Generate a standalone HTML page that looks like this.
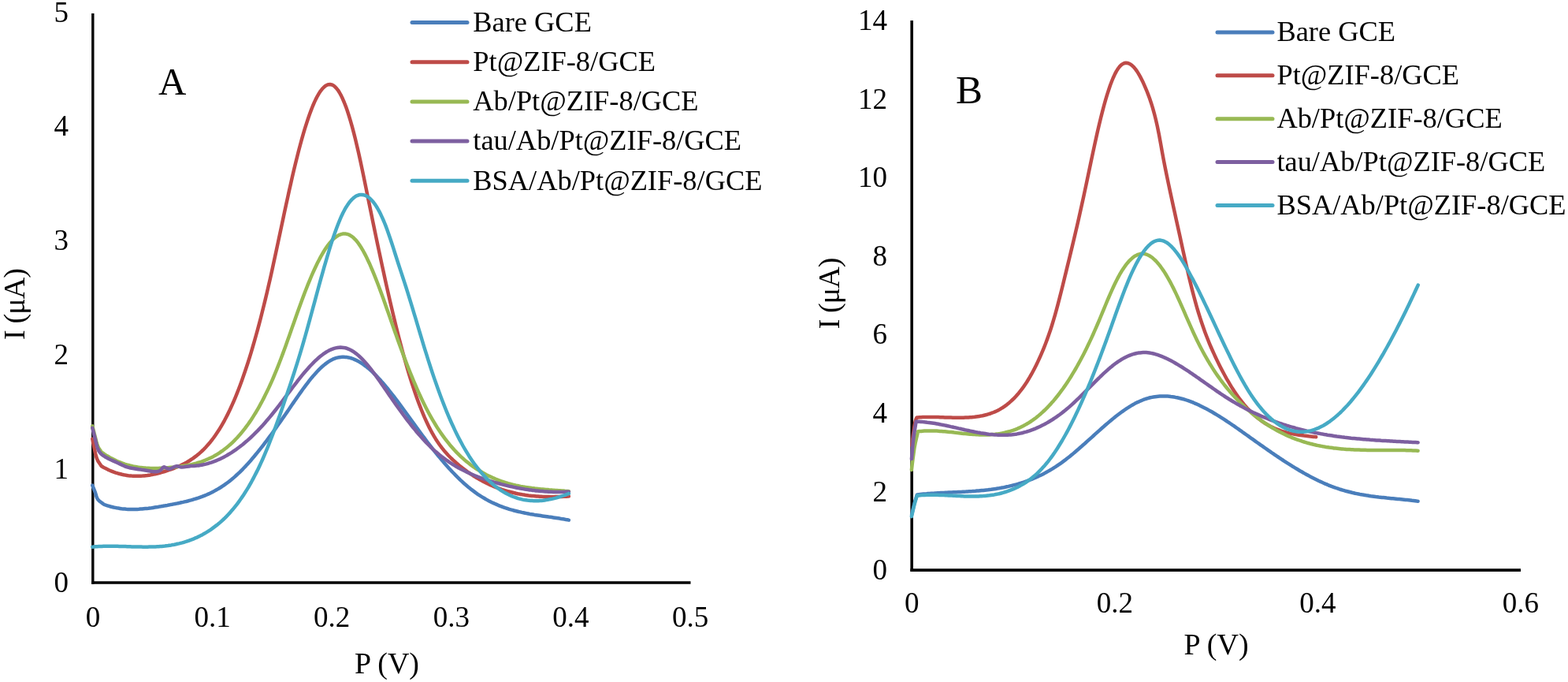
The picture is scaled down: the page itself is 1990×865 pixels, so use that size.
<!DOCTYPE html>
<html><head><meta charset="utf-8"><title>DPV curves</title>
<style>html,body{margin:0;padding:0;background:#fff;overflow:hidden}svg{display:block}</style>
</head><body>
<svg width="1990" height="865" viewBox="0 0 1990 865" font-family="'Liberation Serif','Times New Roman',serif" fill="#000">
<rect width="1990" height="865" fill="#fff"/>
<line x1="117.8" y1="17" x2="117.8" y2="740.7" stroke="#000" stroke-width="3.4"/>
<line x1="116.2" y1="739" x2="876.5" y2="739" stroke="#000" stroke-width="3.4"/>
<line x1="1157.2" y1="26" x2="1157.2" y2="724.8" stroke="#000" stroke-width="3.6"/>
<line x1="1155.4" y1="723.1" x2="1930" y2="723.1" stroke="#000" stroke-width="3.6"/>
<g fill="none" stroke-width="4.5" stroke-linejoin="round" stroke-linecap="round">
<path d="M117.3 615.6 L117.9 617.2 L118.8 619.4 L119.8 621.9 L120.8 624.3 L121.5 626.6 L122.2 629.0 L123.0 631.4 L124.2 633.5 L126.1 635.5 L128.5 637.3 L130.7 638.9 L132.3 640.0 L134.3 640.7 L136.3 641.3 L138.3 641.9 L140.3 642.5 L142.3 643.0 L144.3 643.5 L146.3 643.9 L148.3 644.3 L150.3 644.6 L152.3 644.9 L154.3 645.2 L156.3 645.4 L158.3 645.6 L160.3 645.8 L162.3 645.9 L164.3 645.9 L166.3 646.0 L168.3 646.0 L170.3 646.0 L172.3 645.9 L174.3 645.9 L176.3 645.8 L178.3 645.6 L180.3 645.5 L182.3 645.3 L184.3 645.1 L186.3 644.9 L188.3 644.7 L190.3 644.4 L192.3 644.2 L194.3 643.9 L196.3 643.6 L198.3 643.3 L200.3 643.0 L202.3 642.6 L204.3 642.3 L206.3 641.9 L208.3 641.6 L210.3 641.2 L212.3 640.9 L214.3 640.5 L216.3 640.1 L218.3 639.8 L220.3 639.4 L222.3 639.0 L224.3 638.6 L226.3 638.2 L228.3 637.8 L230.3 637.3 L232.3 636.9 L234.3 636.4 L236.3 636.0 L238.3 635.5 L240.3 634.9 L242.3 634.4 L244.3 633.8 L246.3 633.2 L248.3 632.6 L250.3 632.0 L252.3 631.3 L254.3 630.6 L256.3 629.9 L258.3 629.1 L260.3 628.3 L262.3 627.5 L264.3 626.6 L266.3 625.7 L268.3 624.7 L270.3 623.7 L272.3 622.6 L274.3 621.5 L276.3 620.4 L278.3 619.2 L280.3 618.0 L282.3 616.7 L284.3 615.3 L286.3 613.9 L288.3 612.5 L290.3 611.0 L292.3 609.4 L294.3 607.8 L296.3 606.1 L298.3 604.4 L300.3 602.5 L302.3 600.7 L304.3 598.8 L306.3 596.8 L308.3 594.8 L310.3 592.7 L312.3 590.6 L314.3 588.4 L316.3 586.2 L318.3 583.9 L320.3 581.6 L322.3 579.2 L324.3 576.8 L326.3 574.4 L328.3 571.9 L330.3 569.4 L332.3 566.9 L334.3 564.3 L336.3 561.7 L338.3 559.1 L340.3 556.4 L342.3 553.7 L344.3 551.0 L346.3 548.2 L348.3 545.4 L350.3 542.6 L352.3 539.8 L354.3 537.0 L356.3 534.1 L358.3 531.3 L360.3 528.4 L362.3 525.5 L364.3 522.6 L366.3 519.7 L368.3 516.7 L370.3 513.8 L372.3 510.9 L374.3 508.0 L376.3 505.1 L378.3 502.2 L380.3 499.4 L382.3 496.6 L384.3 493.8 L386.3 491.1 L388.3 488.4 L390.3 485.8 L392.3 483.2 L394.3 480.7 L396.3 478.3 L398.3 475.9 L400.3 473.7 L402.3 471.5 L404.3 469.4 L406.3 467.4 L408.3 465.5 L410.3 463.8 L412.3 462.1 L414.3 460.6 L416.3 459.2 L418.3 457.9 L420.3 456.7 L422.3 455.7 L424.3 454.9 L426.3 454.2 L428.3 453.6 L430.3 453.2 L432.3 452.9 L434.3 452.8 L436.3 452.8 L438.3 452.9 L440.3 453.1 L442.3 453.5 L444.3 453.9 L446.3 454.5 L448.3 455.2 L450.3 456.1 L452.3 457.0 L454.3 458.0 L456.3 459.1 L458.3 460.4 L460.3 461.7 L462.3 463.1 L464.3 464.6 L466.3 466.2 L468.3 467.9 L470.3 469.6 L472.3 471.4 L474.3 473.3 L476.3 475.3 L478.3 477.4 L480.3 479.5 L482.3 481.6 L484.3 483.9 L486.3 486.1 L488.3 488.5 L490.3 490.9 L492.3 493.3 L494.3 495.8 L496.3 498.3 L498.3 500.8 L500.3 503.4 L502.3 506.1 L504.3 508.7 L506.3 511.4 L508.3 514.1 L510.3 516.8 L512.3 519.5 L514.3 522.3 L516.3 525.0 L518.3 527.8 L520.3 530.6 L522.3 533.3 L524.3 536.1 L526.3 538.9 L528.3 541.6 L530.3 544.4 L532.3 547.1 L534.3 549.8 L536.3 552.5 L538.3 555.2 L540.3 557.9 L542.3 560.5 L544.3 563.1 L546.3 565.7 L548.3 568.3 L550.3 570.8 L552.3 573.3 L554.3 575.8 L556.3 578.2 L558.3 580.6 L560.3 583.0 L562.3 585.4 L564.3 587.7 L566.3 590.0 L568.3 592.2 L570.3 594.4 L572.3 596.6 L574.3 598.7 L576.3 600.8 L578.3 602.9 L580.3 604.9 L582.3 606.8 L584.3 608.8 L586.3 610.6 L588.3 612.5 L590.3 614.3 L592.3 616.0 L594.3 617.7 L596.3 619.3 L598.3 620.9 L600.3 622.4 L602.3 623.9 L604.3 625.4 L606.3 626.8 L608.3 628.1 L610.3 629.4 L612.3 630.6 L614.3 631.8 L616.3 633.0 L618.3 634.1 L620.3 635.2 L622.3 636.2 L624.3 637.2 L626.3 638.1 L628.3 639.0 L630.3 639.9 L632.3 640.8 L634.3 641.6 L636.3 642.3 L638.3 643.1 L640.3 643.8 L642.3 644.5 L644.3 645.1 L646.3 645.8 L648.3 646.4 L650.3 646.9 L652.3 647.5 L654.3 648.0 L656.3 648.5 L658.3 649.0 L660.3 649.4 L662.3 649.9 L664.3 650.3 L666.3 650.7 L668.3 651.1 L670.3 651.5 L672.3 651.9 L674.3 652.2 L676.3 652.5 L678.3 652.9 L680.3 653.2 L682.3 653.5 L684.3 653.8 L686.3 654.1 L688.3 654.4 L690.3 654.7 L692.3 655.0 L694.3 655.3 L696.3 655.6 L698.3 655.8 L700.3 656.1 L702.3 656.4 L704.3 656.7 L706.3 657.0 L708.3 657.3 L710.3 657.6 L712.3 658.0 L714.3 658.3 L716.3 658.6 L718.3 659.0 L720.3 659.3 L721.9 659.6" stroke="#4A7EBB"/>
<path d="M117.3 556.6 L117.7 558.6 L118.2 561.5 L118.9 564.8 L119.6 568.1 L120.3 571.5 L121.1 575.2 L122.0 578.8 L123.1 582.0 L124.5 584.9 L126.2 587.5 L127.8 589.8 L128.9 591.3 L130.9 592.5 L132.9 593.6 L134.9 594.6 L136.9 595.6 L138.9 596.5 L140.9 597.3 L142.9 598.1 L144.9 598.9 L146.9 599.6 L148.9 600.2 L150.9 600.8 L152.9 601.3 L154.9 601.8 L156.9 602.2 L158.9 602.6 L160.9 602.9 L162.9 603.2 L164.9 603.4 L166.9 603.6 L168.9 603.7 L170.9 603.8 L172.9 603.8 L174.9 603.8 L176.9 603.8 L178.9 603.7 L180.9 603.6 L182.9 603.4 L184.9 603.2 L186.9 603.0 L188.9 602.7 L190.9 602.4 L192.9 602.0 L194.9 601.6 L196.9 601.2 L198.9 600.8 L200.9 600.3 L202.9 599.8 L204.9 599.2 L206.9 598.6 L208.9 598.0 L210.9 597.4 L212.9 596.7 L214.9 596.0 L216.9 595.3 L218.9 594.6 L220.9 593.8 L222.9 593.0 L224.9 592.2 L226.9 591.4 L228.9 590.5 L230.9 589.5 L232.9 588.5 L234.9 587.5 L236.9 586.4 L238.9 585.2 L240.9 584.0 L242.9 582.7 L244.9 581.4 L246.9 579.9 L248.9 578.4 L250.9 576.8 L252.9 575.2 L254.9 573.4 L256.9 571.5 L258.9 569.6 L260.9 567.5 L262.9 565.3 L264.9 563.0 L266.9 560.7 L268.9 558.1 L270.9 555.5 L272.9 552.7 L274.9 549.8 L276.9 546.8 L278.9 543.7 L280.9 540.3 L282.9 536.9 L284.9 533.3 L286.9 529.5 L288.9 525.6 L290.9 521.6 L292.9 517.3 L294.9 512.9 L296.9 508.3 L298.9 503.6 L300.9 498.6 L302.9 493.5 L304.9 488.2 L306.9 482.8 L308.9 477.1 L310.9 471.3 L312.9 465.3 L314.9 459.2 L316.9 452.8 L318.9 446.3 L320.9 439.5 L322.9 432.6 L324.9 425.5 L326.9 418.3 L328.9 410.8 L330.9 403.2 L332.9 395.3 L334.9 387.3 L336.9 379.1 L338.9 370.7 L340.9 362.1 L342.9 353.4 L344.9 344.4 L346.9 335.3 L348.9 326.1 L350.9 316.8 L352.9 307.4 L354.9 298.0 L356.9 288.6 L358.9 279.2 L360.9 269.8 L362.9 260.6 L364.9 251.4 L366.9 242.3 L368.9 233.4 L370.9 224.6 L372.9 216.1 L374.9 207.7 L376.9 199.7 L378.9 191.8 L380.9 184.2 L382.9 176.9 L384.9 169.9 L386.9 163.2 L388.9 156.8 L390.9 150.7 L392.9 145.0 L394.9 139.6 L396.9 134.5 L398.9 129.9 L400.9 125.6 L402.9 121.8 L404.9 118.4 L406.9 115.3 L408.9 112.8 L410.9 110.7 L412.9 109.0 L414.9 107.9 L416.9 107.2 L418.9 107.1 L420.9 107.4 L422.9 108.3 L424.9 109.8 L426.9 111.8 L428.9 114.3 L430.9 117.5 L432.9 121.1 L434.9 125.3 L436.9 130.0 L438.9 135.1 L440.9 140.8 L442.9 147.0 L444.9 153.6 L446.9 160.6 L448.9 168.1 L450.9 176.0 L452.9 184.4 L454.9 193.1 L456.9 202.1 L458.9 211.4 L460.9 220.9 L462.9 230.6 L464.9 240.4 L466.9 250.2 L468.9 260.0 L470.9 269.8 L472.9 279.6 L474.9 289.3 L476.9 298.9 L478.9 308.5 L480.9 317.9 L482.9 327.3 L484.9 336.6 L486.9 345.8 L488.9 354.9 L490.9 363.9 L492.9 372.7 L494.9 381.5 L496.9 390.1 L498.9 398.5 L500.9 406.8 L502.9 415.0 L504.9 423.0 L506.9 430.8 L508.9 438.4 L510.9 445.9 L512.9 453.1 L514.9 460.2 L516.9 467.1 L518.9 473.8 L520.9 480.3 L522.9 486.5 L524.9 492.6 L526.9 498.5 L528.9 504.2 L530.9 509.7 L532.9 514.9 L534.9 520.0 L536.9 524.9 L538.9 529.6 L540.9 534.0 L542.9 538.3 L544.9 542.4 L546.9 546.2 L548.9 549.9 L550.9 553.4 L552.9 556.7 L554.9 559.8 L556.9 562.7 L558.9 565.5 L560.9 568.2 L562.9 570.7 L564.9 573.1 L566.9 575.3 L568.9 577.5 L570.9 579.5 L572.9 581.5 L574.9 583.4 L576.9 585.2 L578.9 587.0 L580.9 588.7 L582.9 590.4 L584.9 592.0 L586.9 593.6 L588.9 595.1 L590.9 596.6 L592.9 598.1 L594.9 599.5 L596.9 600.8 L598.9 602.2 L600.9 603.5 L602.9 604.7 L604.9 606.0 L606.9 607.1 L608.9 608.3 L610.9 609.4 L612.9 610.5 L614.9 611.5 L616.9 612.5 L618.9 613.5 L620.9 614.4 L622.9 615.4 L624.9 616.2 L626.9 617.1 L628.9 617.9 L630.9 618.7 L632.9 619.4 L634.9 620.1 L636.9 620.8 L638.9 621.5 L640.9 622.1 L642.9 622.7 L644.9 623.3 L646.9 623.8 L648.9 624.3 L650.9 624.8 L652.9 625.3 L654.9 625.8 L656.9 626.2 L658.9 626.6 L660.9 626.9 L662.9 627.3 L664.9 627.6 L666.9 627.9 L668.9 628.2 L670.9 628.5 L672.9 628.7 L674.9 628.9 L676.9 629.1 L678.9 629.3 L680.9 629.5 L682.9 629.6 L684.9 629.7 L686.9 629.8 L688.9 629.9 L690.9 630.0 L692.9 630.1 L694.9 630.1 L696.9 630.1 L698.9 630.2 L700.9 630.2 L702.9 630.2 L704.9 630.1 L706.9 630.1 L708.9 630.0 L710.9 630.0 L712.9 629.9 L714.9 629.8 L716.9 629.8 L718.9 629.7 L720.9 629.5 L721.9 629.5" stroke="#BE4B48"/>
<path d="M117.3 540.4 L117.9 542.9 L118.8 546.4 L119.8 550.4 L120.8 554.0 L121.6 557.2 L122.4 560.4 L123.3 563.4 L124.2 566.0 L125.4 568.4 L126.8 570.5 L128.0 572.3 L128.9 573.5 L130.9 574.9 L132.9 576.3 L134.9 577.6 L136.9 578.8 L138.9 580.0 L140.9 581.1 L142.9 582.1 L144.9 583.1 L146.9 584.1 L148.9 585.0 L150.9 585.8 L152.9 586.6 L154.9 587.4 L156.9 588.1 L158.9 588.8 L160.9 589.4 L162.9 589.9 L164.9 590.5 L166.9 590.9 L168.9 591.4 L170.9 591.8 L172.9 592.1 L174.9 592.5 L176.9 592.8 L178.9 593.0 L180.9 593.2 L182.9 593.4 L184.9 593.6 L186.9 593.7 L188.9 593.8 L190.9 593.9 L192.9 593.9 L194.9 594.0 L196.9 594.0 L198.9 593.9 L200.9 593.9 L202.9 593.8 L204.9 593.7 L206.9 593.6 L208.9 593.5 L210.9 593.4 L212.9 593.2 L214.9 593.0 L216.9 592.8 L218.9 592.7 L220.9 592.5 L222.9 592.2 L224.9 592.0 L226.9 591.8 L228.9 591.5 L230.9 591.2 L232.9 590.9 L234.9 590.6 L236.9 590.3 L238.9 589.9 L240.9 589.5 L242.9 589.1 L244.9 588.6 L246.9 588.1 L248.9 587.6 L250.9 587.0 L252.9 586.4 L254.9 585.8 L256.9 585.1 L258.9 584.3 L260.9 583.5 L262.9 582.7 L264.9 581.8 L266.9 580.9 L268.9 579.9 L270.9 578.9 L272.9 577.8 L274.9 576.6 L276.9 575.4 L278.9 574.1 L280.9 572.7 L282.9 571.3 L284.9 569.8 L286.9 568.3 L288.9 566.6 L290.9 564.9 L292.9 563.2 L294.9 561.3 L296.9 559.4 L298.9 557.3 L300.9 555.2 L302.9 553.0 L304.9 550.8 L306.9 548.4 L308.9 545.9 L310.9 543.4 L312.9 540.7 L314.9 538.0 L316.9 535.1 L318.9 532.2 L320.9 529.1 L322.9 525.9 L324.9 522.7 L326.9 519.3 L328.9 515.8 L330.9 512.2 L332.9 508.5 L334.9 504.6 L336.9 500.6 L338.9 496.6 L340.9 492.4 L342.9 488.0 L344.9 483.6 L346.9 479.0 L348.9 474.2 L350.9 469.4 L352.9 464.4 L354.9 459.3 L356.9 454.0 L358.9 448.6 L360.9 443.2 L362.9 437.7 L364.9 432.1 L366.9 426.4 L368.9 420.7 L370.9 415.1 L372.9 409.4 L374.9 403.7 L376.9 398.0 L378.9 392.4 L380.9 386.9 L382.9 381.4 L384.9 376.1 L386.9 370.8 L388.9 365.7 L390.9 360.7 L392.9 355.8 L394.9 351.0 L396.9 346.4 L398.9 342.0 L400.9 337.7 L402.9 333.6 L404.9 329.7 L406.9 325.9 L408.9 322.4 L410.9 319.0 L412.9 315.8 L414.9 312.9 L416.9 310.2 L418.9 307.7 L420.9 305.4 L422.9 303.4 L424.9 301.6 L426.9 300.1 L428.9 298.8 L430.9 297.8 L432.9 297.1 L434.9 296.6 L436.9 296.5 L438.9 296.6 L440.9 297.0 L442.9 297.7 L444.9 298.8 L446.9 300.1 L448.9 301.8 L450.9 303.8 L452.9 306.1 L454.9 308.7 L456.9 311.6 L458.9 314.8 L460.9 318.2 L462.9 321.9 L464.9 325.8 L466.9 329.9 L468.9 334.2 L470.9 338.8 L472.9 343.5 L474.9 348.3 L476.9 353.3 L478.9 358.5 L480.9 363.7 L482.9 369.1 L484.9 374.6 L486.9 380.1 L488.9 385.7 L490.9 391.4 L492.9 397.1 L494.9 402.8 L496.9 408.5 L498.9 414.2 L500.9 419.9 L502.9 425.6 L504.9 431.2 L506.9 436.7 L508.9 442.2 L510.9 447.5 L512.9 452.9 L514.9 458.1 L516.9 463.3 L518.9 468.3 L520.9 473.3 L522.9 478.2 L524.9 483.0 L526.9 487.7 L528.9 492.3 L530.9 496.8 L532.9 501.2 L534.9 505.5 L536.9 509.7 L538.9 513.8 L540.9 517.7 L542.9 521.5 L544.9 525.2 L546.9 528.8 L548.9 532.3 L550.9 535.7 L552.9 539.0 L554.9 542.2 L556.9 545.2 L558.9 548.2 L560.9 551.1 L562.9 553.9 L564.9 556.6 L566.9 559.2 L568.9 561.7 L570.9 564.2 L572.9 566.5 L574.9 568.8 L576.9 571.0 L578.9 573.1 L580.9 575.2 L582.9 577.2 L584.9 579.1 L586.9 580.9 L588.9 582.7 L590.9 584.4 L592.9 586.0 L594.9 587.6 L596.9 589.2 L598.9 590.7 L600.9 592.1 L602.9 593.5 L604.9 594.8 L606.9 596.1 L608.9 597.3 L610.9 598.5 L612.9 599.7 L614.9 600.8 L616.9 601.9 L618.9 602.9 L620.9 603.9 L622.9 604.8 L624.9 605.8 L626.9 606.6 L628.9 607.5 L630.9 608.3 L632.9 609.1 L634.9 609.8 L636.9 610.5 L638.9 611.2 L640.9 611.8 L642.9 612.5 L644.9 613.1 L646.9 613.6 L648.9 614.2 L650.9 614.7 L652.9 615.1 L654.9 615.6 L656.9 616.0 L658.9 616.5 L660.9 616.9 L662.9 617.2 L664.9 617.6 L666.9 617.9 L668.9 618.2 L670.9 618.5 L672.9 618.8 L674.9 619.1 L676.9 619.3 L678.9 619.6 L680.9 619.8 L682.9 620.0 L684.9 620.2 L686.9 620.4 L688.9 620.6 L690.9 620.8 L692.9 621.0 L694.9 621.1 L696.9 621.3 L698.9 621.4 L700.9 621.6 L702.9 621.7 L704.9 621.9 L706.9 622.0 L708.9 622.2 L710.9 622.3 L712.9 622.5 L714.9 622.6 L716.9 622.8 L718.9 622.9 L720.9 623.1 L721.9 623.2" stroke="#98B954"/>
<path d="M117.3 542.7 L117.9 545.2 L118.8 548.9 L119.8 552.9 L120.8 556.6 L121.6 560.0 L122.4 563.4 L123.3 566.6 L124.2 569.3 L125.2 571.5 L126.2 573.2 L127.4 574.7 L128.9 576.2 L130.8 577.7 L133.1 579.2 L135.5 580.6 L138.1 582.0 L140.8 583.3 L143.8 584.6 L146.8 585.9 L149.7 587.2 L152.6 588.6 L155.4 590.0 L158.3 591.3 L161.2 592.4 L164.1 593.2 L167.0 593.8 L169.9 594.2 L172.8 594.7 L175.7 595.2 L178.6 595.6 L181.4 596.1 L184.3 596.5 L187.3 597.0 L190.4 597.5 L193.3 598.0 L195.9 598.2 L198.0 598.2 L199.8 598.0 L201.3 597.6 L202.8 597.0 L204.2 596.0 L205.4 594.6 L206.5 593.2 L207.5 592.4 L208.4 592.3 L209.3 592.6 L210.1 593.1 L211.0 593.5 L212.0 593.9 L213.0 594.4 L214.2 594.7 L215.6 594.7 L217.4 594.1 L219.4 593.0 L221.6 591.9 L223.6 591.3 L225.3 591.3 L226.9 591.7 L228.6 592.2 L230.6 592.4 L233.4 592.2 L236.8 591.8 L239.9 591.4 L242.1 591.1 L244.1 591.1 L246.1 591.0 L248.1 590.8 L250.1 590.6 L252.1 590.4 L254.1 590.1 L256.1 589.7 L258.1 589.3 L260.1 588.9 L262.1 588.4 L264.1 587.8 L266.1 587.2 L268.1 586.6 L270.1 585.9 L272.1 585.2 L274.1 584.4 L276.1 583.5 L278.1 582.7 L280.1 581.7 L282.1 580.7 L284.1 579.7 L286.1 578.6 L288.1 577.5 L290.1 576.3 L292.1 575.1 L294.1 573.9 L296.1 572.5 L298.1 571.2 L300.1 569.8 L302.1 568.3 L304.1 566.8 L306.1 565.2 L308.1 563.7 L310.1 562.0 L312.1 560.3 L314.1 558.6 L316.1 556.8 L318.1 555.0 L320.1 553.1 L322.1 551.2 L324.1 549.2 L326.1 547.2 L328.1 545.1 L330.1 543.0 L332.1 540.9 L334.1 538.7 L336.1 536.4 L338.1 534.1 L340.1 531.8 L342.1 529.4 L344.1 527.0 L346.1 524.5 L348.1 522.0 L350.1 519.5 L352.1 516.9 L354.1 514.3 L356.1 511.7 L358.1 509.1 L360.1 506.4 L362.1 503.7 L364.1 501.1 L366.1 498.4 L368.1 495.8 L370.1 493.1 L372.1 490.5 L374.1 487.9 L376.1 485.3 L378.1 482.7 L380.1 480.2 L382.1 477.7 L384.1 475.2 L386.1 472.8 L388.1 470.5 L390.1 468.2 L392.1 465.9 L394.1 463.8 L396.1 461.7 L398.1 459.6 L400.1 457.7 L402.1 455.8 L404.1 454.0 L406.1 452.3 L408.1 450.7 L410.1 449.2 L412.1 447.8 L414.1 446.5 L416.1 445.4 L418.1 444.3 L420.1 443.4 L422.1 442.6 L424.1 441.9 L426.1 441.4 L428.1 441.0 L430.1 440.7 L432.1 440.6 L434.1 440.7 L436.1 440.9 L438.1 441.3 L440.1 441.8 L442.1 442.6 L444.1 443.5 L446.1 444.5 L448.1 445.7 L450.1 447.1 L452.1 448.6 L454.1 450.2 L456.1 452.0 L458.1 453.9 L460.1 455.9 L462.1 458.0 L464.1 460.3 L466.1 462.6 L468.1 465.0 L470.1 467.5 L472.1 470.0 L474.1 472.7 L476.1 475.4 L478.1 478.1 L480.1 480.9 L482.1 483.7 L484.1 486.6 L486.1 489.5 L488.1 492.4 L490.1 495.3 L492.1 498.2 L494.1 501.1 L496.1 504.0 L498.1 506.9 L500.1 509.8 L502.1 512.6 L504.1 515.4 L506.1 518.2 L508.1 521.0 L510.1 523.7 L512.1 526.5 L514.1 529.1 L516.1 531.8 L518.1 534.4 L520.1 537.0 L522.1 539.5 L524.1 542.0 L526.1 544.4 L528.1 546.9 L530.1 549.2 L532.1 551.6 L534.1 553.8 L536.1 556.1 L538.1 558.3 L540.1 560.4 L542.1 562.5 L544.1 564.5 L546.1 566.5 L548.1 568.4 L550.1 570.3 L552.1 572.1 L554.1 573.8 L556.1 575.5 L558.1 577.2 L560.1 578.8 L562.1 580.3 L564.1 581.8 L566.1 583.3 L568.1 584.7 L570.1 586.1 L572.1 587.4 L574.1 588.7 L576.1 589.9 L578.1 591.2 L580.1 592.3 L582.1 593.5 L584.1 594.5 L586.1 595.6 L588.1 596.6 L590.1 597.6 L592.1 598.6 L594.1 599.5 L596.1 600.4 L598.1 601.3 L600.1 602.2 L602.1 603.0 L604.1 603.8 L606.1 604.6 L608.1 605.3 L610.1 606.0 L612.1 606.8 L614.1 607.4 L616.1 608.1 L618.1 608.8 L620.1 609.4 L622.1 610.0 L624.1 610.7 L626.1 611.3 L628.1 611.9 L630.1 612.4 L632.1 613.0 L634.1 613.5 L636.1 614.1 L638.1 614.6 L640.1 615.1 L642.1 615.6 L644.1 616.1 L646.1 616.6 L648.1 617.0 L650.1 617.4 L652.1 617.9 L654.1 618.3 L656.1 618.7 L658.1 619.1 L660.1 619.4 L662.1 619.8 L664.1 620.1 L666.1 620.5 L668.1 620.8 L670.1 621.1 L672.1 621.4 L674.1 621.6 L676.1 621.9 L678.1 622.1 L680.1 622.4 L682.1 622.6 L684.1 622.8 L686.1 623.0 L688.1 623.1 L690.1 623.3 L692.1 623.4 L694.1 623.5 L696.1 623.7 L698.1 623.7 L700.1 623.8 L702.1 623.9 L704.1 623.9 L706.1 624.0 L708.1 624.0 L710.1 624.0 L712.1 624.0 L714.1 623.9 L716.1 623.9 L718.1 623.8 L720.1 623.8 L721.9 623.7" stroke="#7D5FA0"/>
<path d="M117.3 693.7 L119.3 693.5 L121.3 693.3 L123.3 693.2 L125.3 693.1 L127.3 693.0 L129.3 692.9 L131.3 692.8 L133.3 692.8 L135.3 692.7 L137.3 692.7 L139.3 692.7 L141.3 692.7 L143.3 692.7 L145.3 692.8 L147.3 692.8 L149.3 692.8 L151.3 692.9 L153.3 692.9 L155.3 693.0 L157.3 693.0 L159.3 693.1 L161.3 693.2 L163.3 693.2 L165.3 693.3 L167.3 693.4 L169.3 693.4 L171.3 693.5 L173.3 693.5 L175.3 693.6 L177.3 693.6 L179.3 693.6 L181.3 693.7 L183.3 693.7 L185.3 693.7 L187.3 693.7 L189.3 693.6 L191.3 693.6 L193.3 693.5 L195.3 693.5 L197.3 693.4 L199.3 693.3 L201.3 693.2 L203.3 693.0 L205.3 692.9 L207.3 692.7 L209.3 692.5 L211.3 692.2 L213.3 692.0 L215.3 691.7 L217.3 691.4 L219.3 691.0 L221.3 690.7 L223.3 690.3 L225.3 689.8 L227.3 689.4 L229.3 688.9 L231.3 688.4 L233.3 687.8 L235.3 687.2 L237.3 686.5 L239.3 685.9 L241.3 685.1 L243.3 684.4 L245.3 683.6 L247.3 682.7 L249.3 681.9 L251.3 680.9 L253.3 680.0 L255.3 678.9 L257.3 677.9 L259.3 676.7 L261.3 675.6 L263.3 674.4 L265.3 673.1 L267.3 671.8 L269.3 670.4 L271.3 668.9 L273.3 667.4 L275.3 665.9 L277.3 664.3 L279.3 662.6 L281.3 660.8 L283.3 659.0 L285.3 657.1 L287.3 655.1 L289.3 653.0 L291.3 650.9 L293.3 648.6 L295.3 646.3 L297.3 643.9 L299.3 641.4 L301.3 638.8 L303.3 636.1 L305.3 633.3 L307.3 630.4 L309.3 627.4 L311.3 624.3 L313.3 621.1 L315.3 617.8 L317.3 614.3 L319.3 610.8 L321.3 607.1 L323.3 603.3 L325.3 599.4 L327.3 595.4 L329.3 591.2 L331.3 586.9 L333.3 582.5 L335.3 577.9 L337.3 573.2 L339.3 568.4 L341.3 563.4 L343.3 558.3 L345.3 553.2 L347.3 547.9 L349.3 542.5 L351.3 537.0 L353.3 531.5 L355.3 525.9 L357.3 520.2 L359.3 514.4 L361.3 508.6 L363.3 502.7 L365.3 496.8 L367.3 490.9 L369.3 484.9 L371.3 478.8 L373.3 472.7 L375.3 466.4 L377.3 460.1 L379.3 453.7 L381.3 447.1 L383.3 440.3 L385.3 433.5 L387.3 426.5 L389.3 419.3 L391.3 412.1 L393.3 404.9 L395.3 397.5 L397.3 390.1 L399.3 382.8 L401.3 375.4 L403.3 368.0 L405.3 360.7 L407.3 353.4 L409.3 346.3 L411.3 339.2 L413.3 332.3 L415.3 325.5 L417.3 318.8 L419.3 312.4 L421.3 306.1 L423.3 300.1 L425.3 294.4 L427.3 288.9 L429.3 283.7 L431.3 278.8 L433.3 274.2 L435.3 270.0 L437.3 266.2 L439.3 262.7 L441.3 259.6 L443.3 256.8 L445.3 254.4 L447.3 252.3 L449.3 250.5 L451.3 249.1 L453.3 248.1 L455.3 247.3 L457.3 247.0 L459.3 246.9 L461.3 247.2 L463.3 247.8 L465.3 248.7 L467.3 250.0 L469.3 251.5 L471.3 253.5 L473.3 255.7 L475.3 258.3 L477.3 261.3 L479.3 264.5 L481.3 268.1 L483.3 272.1 L485.3 276.4 L487.3 281.0 L489.3 285.9 L491.3 291.2 L493.3 296.9 L495.3 302.7 L497.3 308.8 L499.3 314.9 L501.3 321.2 L503.3 327.5 L505.3 333.7 L507.3 339.9 L509.3 345.9 L511.3 352.0 L513.3 358.1 L515.3 364.3 L517.3 370.6 L519.3 377.1 L521.3 383.6 L523.3 390.1 L525.3 396.8 L527.3 403.4 L529.3 410.1 L531.3 416.8 L533.3 423.5 L535.3 430.2 L537.3 436.8 L539.3 443.3 L541.3 449.7 L543.3 456.1 L545.3 462.3 L547.3 468.5 L549.3 474.5 L551.3 480.4 L553.3 486.1 L555.3 491.8 L557.3 497.3 L559.3 502.7 L561.3 508.0 L563.3 513.1 L565.3 518.2 L567.3 523.1 L569.3 527.8 L571.3 532.5 L573.3 537.0 L575.3 541.3 L577.3 545.6 L579.3 549.7 L581.3 553.7 L583.3 557.6 L585.3 561.3 L587.3 565.0 L589.3 568.5 L591.3 571.9 L593.3 575.2 L595.3 578.4 L597.3 581.4 L599.3 584.4 L601.3 587.3 L603.3 590.0 L605.3 592.7 L607.3 595.2 L609.3 597.7 L611.3 600.0 L613.3 602.3 L615.3 604.5 L617.3 606.6 L619.3 608.6 L621.3 610.5 L623.3 612.3 L625.3 614.0 L627.3 615.7 L629.3 617.3 L631.3 618.8 L633.3 620.2 L635.3 621.6 L637.3 622.9 L639.3 624.1 L641.3 625.2 L643.3 626.3 L645.3 627.3 L647.3 628.3 L649.3 629.2 L651.3 630.0 L653.3 630.7 L655.3 631.4 L657.3 632.1 L659.3 632.6 L661.3 633.1 L663.3 633.6 L665.3 634.0 L667.3 634.3 L669.3 634.6 L671.3 634.8 L673.3 635.0 L675.3 635.1 L677.3 635.2 L679.3 635.2 L681.3 635.2 L683.3 635.2 L685.3 635.0 L687.3 634.9 L689.3 634.7 L691.3 634.4 L693.3 634.1 L695.3 633.8 L697.3 633.4 L699.3 633.0 L701.3 632.6 L703.3 632.1 L705.3 631.6 L707.3 631.0 L709.3 630.4 L711.3 629.8 L713.3 629.2 L715.3 628.5 L717.3 627.8 L719.3 627.0 L721.3 626.3 L721.9 626.0" stroke="#46AAC5"/>
<path d="M1157.1 653.0 L1157.7 650.3 L1158.6 646.4 L1159.6 642.2 L1160.5 638.5 L1161.4 635.2 L1162.4 632.1 L1163.3 629.3 L1163.9 627.4 L1165.9 627.2 L1167.9 627.0 L1169.9 626.8 L1171.9 626.6 L1173.9 626.4 L1175.9 626.3 L1177.9 626.1 L1179.9 626.0 L1181.9 625.8 L1183.9 625.7 L1185.9 625.6 L1187.9 625.4 L1189.9 625.3 L1191.9 625.2 L1193.9 625.1 L1195.9 625.0 L1197.9 624.9 L1199.9 624.8 L1201.9 624.7 L1203.9 624.6 L1205.9 624.5 L1207.9 624.4 L1209.9 624.3 L1211.9 624.3 L1213.9 624.2 L1215.9 624.1 L1217.9 624.0 L1219.9 623.9 L1221.9 623.8 L1223.9 623.7 L1225.9 623.6 L1227.9 623.4 L1229.9 623.3 L1231.9 623.2 L1233.9 623.1 L1235.9 622.9 L1237.9 622.8 L1239.9 622.6 L1241.9 622.5 L1243.9 622.3 L1245.9 622.1 L1247.9 621.9 L1249.9 621.7 L1251.9 621.5 L1253.9 621.3 L1255.9 621.0 L1257.9 620.8 L1259.9 620.5 L1261.9 620.2 L1263.9 619.9 L1265.9 619.6 L1267.9 619.3 L1269.9 618.9 L1271.9 618.5 L1273.9 618.2 L1275.9 617.8 L1277.9 617.3 L1279.9 616.9 L1281.9 616.4 L1283.9 616.0 L1285.9 615.4 L1287.9 614.9 L1289.9 614.4 L1291.9 613.8 L1293.9 613.2 L1295.9 612.6 L1297.9 612.0 L1299.9 611.3 L1301.9 610.6 L1303.9 609.9 L1305.9 609.1 L1307.9 608.4 L1309.9 607.6 L1311.9 606.7 L1313.9 605.9 L1315.9 605.0 L1317.9 604.1 L1319.9 603.1 L1321.9 602.2 L1323.9 601.2 L1325.9 600.1 L1327.9 599.0 L1329.9 597.9 L1331.9 596.8 L1333.9 595.6 L1335.9 594.4 L1337.9 593.1 L1339.9 591.9 L1341.9 590.5 L1343.9 589.2 L1345.9 587.8 L1347.9 586.4 L1349.9 584.9 L1351.9 583.4 L1353.9 581.8 L1355.9 580.3 L1357.9 578.7 L1359.9 577.0 L1361.9 575.4 L1363.9 573.7 L1365.9 572.0 L1367.9 570.3 L1369.9 568.5 L1371.9 566.8 L1373.9 565.0 L1375.9 563.3 L1377.9 561.5 L1379.9 559.7 L1381.9 557.9 L1383.9 556.1 L1385.9 554.3 L1387.9 552.5 L1389.9 550.7 L1391.9 548.9 L1393.9 547.1 L1395.9 545.3 L1397.9 543.5 L1399.9 541.8 L1401.9 540.0 L1403.9 538.3 L1405.9 536.6 L1407.9 534.9 L1409.9 533.2 L1411.9 531.6 L1413.9 529.9 L1415.9 528.3 L1417.9 526.8 L1419.9 525.3 L1421.9 523.8 L1423.9 522.3 L1425.9 520.9 L1427.9 519.5 L1429.9 518.1 L1431.9 516.9 L1433.9 515.6 L1435.9 514.4 L1437.9 513.2 L1439.9 512.1 L1441.9 511.1 L1443.9 510.1 L1445.9 509.2 L1447.9 508.3 L1449.9 507.5 L1451.9 506.7 L1453.9 506.0 L1455.9 505.4 L1457.9 504.8 L1459.9 504.3 L1461.9 503.9 L1463.9 503.5 L1465.9 503.2 L1467.9 502.9 L1469.9 502.7 L1471.9 502.6 L1473.9 502.5 L1475.9 502.4 L1477.9 502.4 L1479.9 502.5 L1481.9 502.6 L1483.9 502.7 L1485.9 503.0 L1487.9 503.2 L1489.9 503.5 L1491.9 503.9 L1493.9 504.2 L1495.9 504.7 L1497.9 505.2 L1499.9 505.7 L1501.9 506.2 L1503.9 506.8 L1505.9 507.5 L1507.9 508.2 L1509.9 508.9 L1511.9 509.6 L1513.9 510.4 L1515.9 511.3 L1517.9 512.1 L1519.9 513.0 L1521.9 513.9 L1523.9 514.9 L1525.9 515.9 L1527.9 516.9 L1529.9 517.9 L1531.9 519.0 L1533.9 520.1 L1535.9 521.2 L1537.9 522.3 L1539.9 523.5 L1541.9 524.7 L1543.9 525.9 L1545.9 527.1 L1547.9 528.3 L1549.9 529.6 L1551.9 530.9 L1553.9 532.2 L1555.9 533.5 L1557.9 534.8 L1559.9 536.1 L1561.9 537.5 L1563.9 538.9 L1565.9 540.2 L1567.9 541.6 L1569.9 543.0 L1571.9 544.4 L1573.9 545.8 L1575.9 547.2 L1577.9 548.7 L1579.9 550.1 L1581.9 551.5 L1583.9 552.9 L1585.9 554.4 L1587.9 555.8 L1589.9 557.2 L1591.9 558.6 L1593.9 560.1 L1595.9 561.5 L1597.9 562.9 L1599.9 564.3 L1601.9 565.7 L1603.9 567.1 L1605.9 568.5 L1607.9 569.9 L1609.9 571.3 L1611.9 572.7 L1613.9 574.1 L1615.9 575.4 L1617.9 576.8 L1619.9 578.2 L1621.9 579.5 L1623.9 580.8 L1625.9 582.2 L1627.9 583.5 L1629.9 584.8 L1631.9 586.1 L1633.9 587.4 L1635.9 588.6 L1637.9 589.9 L1639.9 591.2 L1641.9 592.4 L1643.9 593.6 L1645.9 594.8 L1647.9 596.0 L1649.9 597.2 L1651.9 598.3 L1653.9 599.5 L1655.9 600.6 L1657.9 601.7 L1659.9 602.8 L1661.9 603.9 L1663.9 605.0 L1665.9 606.0 L1667.9 607.0 L1669.9 608.0 L1671.9 609.0 L1673.9 610.0 L1675.9 610.9 L1677.9 611.8 L1679.9 612.7 L1681.9 613.6 L1683.9 614.4 L1685.9 615.3 L1687.9 616.1 L1689.9 616.9 L1691.9 617.6 L1693.9 618.3 L1695.9 619.0 L1697.9 619.7 L1699.9 620.4 L1701.9 621.0 L1703.9 621.6 L1705.9 622.2 L1707.9 622.8 L1709.9 623.3 L1711.9 623.8 L1713.9 624.3 L1715.9 624.8 L1717.9 625.2 L1719.9 625.7 L1721.9 626.1 L1723.9 626.5 L1725.9 626.9 L1727.9 627.2 L1729.9 627.6 L1731.9 627.9 L1733.9 628.3 L1735.9 628.6 L1737.9 628.9 L1739.9 629.2 L1741.9 629.4 L1743.9 629.7 L1745.9 630.0 L1747.9 630.2 L1749.9 630.5 L1751.9 630.7 L1753.9 630.9 L1755.9 631.1 L1757.9 631.3 L1759.9 631.6 L1761.9 631.8 L1763.9 632.0 L1765.9 632.2 L1767.9 632.3 L1769.9 632.5 L1771.9 632.7 L1773.9 632.9 L1775.9 633.1 L1777.9 633.3 L1779.9 633.5 L1781.9 633.7 L1783.9 633.9 L1785.9 634.1 L1787.9 634.3 L1789.9 634.5 L1791.9 634.8 L1793.9 635.0 L1795.9 635.2 L1797.9 635.5 L1799.6 635.7" stroke="#4A7EBB"/>
<path d="M1157.3 565.0 L1157.9 560.1 L1158.7 553.1 L1159.7 545.7 L1160.5 540.0 L1161.2 536.3 L1161.8 533.8 L1162.4 531.9 L1163.0 530.5 L1163.6 529.6 L1164.2 529.4 L1164.7 529.4 L1165.0 529.5 L1167.0 529.3 L1169.0 529.2 L1171.0 529.1 L1173.0 529.0 L1175.0 529.0 L1177.0 528.9 L1179.0 528.9 L1181.0 528.9 L1183.0 528.9 L1185.0 528.9 L1187.0 529.0 L1189.0 529.0 L1191.0 529.1 L1193.0 529.2 L1195.0 529.2 L1197.0 529.3 L1199.0 529.4 L1201.0 529.4 L1203.0 529.5 L1205.0 529.6 L1207.0 529.6 L1209.0 529.7 L1211.0 529.7 L1213.0 529.7 L1215.0 529.8 L1217.0 529.8 L1219.0 529.8 L1221.0 529.7 L1223.0 529.7 L1225.0 529.6 L1227.0 529.6 L1229.0 529.5 L1231.0 529.3 L1233.0 529.2 L1235.0 529.0 L1237.0 528.8 L1239.0 528.5 L1241.0 528.2 L1243.0 527.9 L1245.0 527.6 L1247.0 527.2 L1249.0 526.7 L1251.0 526.2 L1253.0 525.7 L1255.0 525.1 L1257.0 524.5 L1259.0 523.7 L1261.0 523.0 L1263.0 522.1 L1265.0 521.2 L1267.0 520.2 L1269.0 519.1 L1271.0 517.9 L1273.0 516.7 L1275.0 515.3 L1277.0 513.9 L1279.0 512.3 L1281.0 510.7 L1283.0 508.9 L1285.0 507.0 L1287.0 505.1 L1289.0 503.0 L1291.0 500.7 L1293.0 498.4 L1295.0 495.9 L1297.0 493.3 L1299.0 490.6 L1301.0 487.7 L1303.0 484.7 L1305.0 481.5 L1307.0 478.2 L1309.0 474.7 L1311.0 471.0 L1313.0 467.2 L1315.0 463.3 L1317.0 459.1 L1319.0 454.8 L1321.0 450.3 L1323.0 445.7 L1325.0 440.8 L1327.0 435.7 L1329.0 430.4 L1331.0 424.8 L1333.0 419.0 L1335.0 412.8 L1337.0 406.2 L1339.0 399.3 L1341.0 392.1 L1343.0 384.7 L1345.0 376.9 L1347.0 369.0 L1349.0 361.0 L1351.0 352.8 L1353.0 344.6 L1355.0 336.4 L1357.0 328.2 L1359.0 319.9 L1361.0 311.6 L1363.0 303.2 L1365.0 294.8 L1367.0 286.2 L1369.0 277.5 L1371.0 268.6 L1373.0 259.6 L1375.0 250.4 L1377.0 241.1 L1379.0 231.7 L1381.0 222.2 L1383.0 212.7 L1385.0 203.3 L1387.0 193.9 L1389.0 184.6 L1391.0 175.5 L1393.0 166.6 L1395.0 158.0 L1397.0 149.8 L1399.0 141.9 L1401.0 134.3 L1403.0 127.2 L1405.0 120.4 L1407.0 114.2 L1409.0 108.3 L1411.0 103.0 L1413.0 98.2 L1415.0 93.9 L1417.0 90.1 L1419.0 87.0 L1421.0 84.4 L1423.0 82.4 L1425.0 81.0 L1427.0 80.1 L1429.0 79.8 L1431.0 80.0 L1433.0 80.6 L1435.0 81.7 L1437.0 83.3 L1439.0 85.2 L1441.0 87.6 L1443.0 90.4 L1445.0 93.6 L1447.0 97.1 L1449.0 101.0 L1451.0 105.1 L1453.0 109.6 L1455.0 114.3 L1457.0 119.4 L1459.0 124.8 L1461.0 130.7 L1463.0 137.1 L1465.0 144.3 L1467.0 152.3 L1469.0 161.1 L1471.0 171.0 L1473.0 181.9 L1475.0 193.1 L1477.0 203.8 L1479.0 214.0 L1481.0 223.8 L1483.0 233.4 L1485.0 242.8 L1487.0 252.0 L1489.0 261.2 L1491.0 270.3 L1493.0 279.4 L1495.0 288.5 L1497.0 297.6 L1499.0 306.8 L1501.0 315.9 L1503.0 324.9 L1505.0 333.9 L1507.0 342.6 L1509.0 351.2 L1511.0 359.5 L1513.0 367.6 L1515.0 375.3 L1517.0 382.7 L1519.0 389.8 L1521.0 396.5 L1523.0 402.9 L1525.0 409.0 L1527.0 414.8 L1529.0 420.4 L1531.0 425.7 L1533.0 430.8 L1535.0 435.8 L1537.0 440.5 L1539.0 445.0 L1541.0 449.4 L1543.0 453.7 L1545.0 457.9 L1547.0 461.9 L1549.0 465.9 L1551.0 469.8 L1553.0 473.5 L1555.0 477.2 L1557.0 480.8 L1559.0 484.2 L1561.0 487.6 L1563.0 490.9 L1565.0 494.0 L1567.0 497.1 L1569.0 500.0 L1571.0 502.9 L1573.0 505.6 L1575.0 508.2 L1577.0 510.7 L1579.0 513.2 L1581.0 515.5 L1583.0 517.7 L1585.0 519.8 L1587.0 521.9 L1589.0 523.8 L1591.0 525.7 L1593.0 527.5 L1595.0 529.2 L1597.0 530.8 L1599.0 532.3 L1601.0 533.8 L1603.0 535.2 L1605.0 536.5 L1607.0 537.7 L1609.0 538.9 L1611.0 540.0 L1613.0 541.1 L1615.0 542.0 L1617.0 543.0 L1619.0 543.8 L1621.0 544.7 L1623.0 545.4 L1625.0 546.2 L1627.0 546.8 L1629.0 547.5 L1631.0 548.0 L1633.0 548.6 L1635.0 549.1 L1637.0 549.6 L1639.0 550.0 L1641.0 550.4 L1643.0 550.8 L1645.0 551.1 L1647.0 551.5 L1649.0 551.8 L1651.0 552.1 L1653.0 552.3 L1655.0 552.6 L1657.0 552.8 L1659.0 553.0 L1661.0 553.3 L1663.0 553.5 L1665.0 553.7 L1667.0 553.9 L1669.0 554.1 L1670.2 554.2" stroke="#BE4B48"/>
<path d="M1156.9 595.9 L1157.5 590.7 L1158.4 583.2 L1159.5 575.1 L1160.5 568.0 L1161.7 561.8 L1163.0 555.9 L1164.2 550.9 L1165.0 547.3 L1167.0 547.1 L1169.0 546.9 L1171.0 546.7 L1173.0 546.6 L1175.0 546.5 L1177.0 546.4 L1179.0 546.4 L1181.0 546.4 L1183.0 546.4 L1185.0 546.5 L1187.0 546.5 L1189.0 546.6 L1191.0 546.7 L1193.0 546.9 L1195.0 547.0 L1197.0 547.2 L1199.0 547.3 L1201.0 547.5 L1203.0 547.7 L1205.0 547.9 L1207.0 548.1 L1209.0 548.3 L1211.0 548.6 L1213.0 548.8 L1215.0 549.0 L1217.0 549.2 L1219.0 549.4 L1221.0 549.7 L1223.0 549.9 L1225.0 550.1 L1227.0 550.3 L1229.0 550.5 L1231.0 550.7 L1233.0 550.8 L1235.0 551.0 L1237.0 551.1 L1239.0 551.2 L1241.0 551.3 L1243.0 551.4 L1245.0 551.5 L1247.0 551.5 L1249.0 551.5 L1251.0 551.5 L1253.0 551.4 L1255.0 551.4 L1257.0 551.3 L1259.0 551.1 L1261.0 551.0 L1263.0 550.8 L1265.0 550.5 L1267.0 550.3 L1269.0 550.0 L1271.0 549.6 L1273.0 549.2 L1275.0 548.8 L1277.0 548.3 L1279.0 547.8 L1281.0 547.3 L1283.0 546.7 L1285.0 546.0 L1287.0 545.3 L1289.0 544.6 L1291.0 543.8 L1293.0 542.9 L1295.0 542.0 L1297.0 541.0 L1299.0 540.0 L1301.0 538.9 L1303.0 537.8 L1305.0 536.6 L1307.0 535.3 L1309.0 534.0 L1311.0 532.6 L1313.0 531.2 L1315.0 529.7 L1317.0 528.1 L1319.0 526.4 L1321.0 524.7 L1323.0 522.9 L1325.0 521.0 L1327.0 519.1 L1329.0 517.1 L1331.0 515.0 L1333.0 512.9 L1335.0 510.6 L1337.0 508.4 L1339.0 506.0 L1341.0 503.5 L1343.0 501.0 L1345.0 498.4 L1347.0 495.7 L1349.0 493.0 L1351.0 490.1 L1353.0 487.2 L1355.0 484.2 L1357.0 481.1 L1359.0 478.0 L1361.0 474.7 L1363.0 471.4 L1365.0 468.0 L1367.0 464.5 L1369.0 460.9 L1371.0 457.2 L1373.0 453.5 L1375.0 449.7 L1377.0 445.7 L1379.0 441.7 L1381.0 437.6 L1383.0 433.4 L1385.0 429.1 L1387.0 424.7 L1389.0 420.2 L1391.0 415.7 L1393.0 411.0 L1395.0 406.3 L1397.0 401.5 L1399.0 396.7 L1401.0 391.8 L1403.0 387.0 L1405.0 382.2 L1407.0 377.5 L1409.0 372.9 L1411.0 368.4 L1413.0 364.0 L1415.0 359.8 L1417.0 355.7 L1419.0 351.9 L1421.0 348.2 L1423.0 344.8 L1425.0 341.6 L1427.0 338.7 L1429.0 335.9 L1431.0 333.4 L1433.0 331.1 L1435.0 329.1 L1437.0 327.3 L1439.0 325.7 L1441.0 324.4 L1443.0 323.4 L1445.0 322.6 L1447.0 322.1 L1449.0 321.8 L1451.0 321.8 L1453.0 322.1 L1455.0 322.7 L1457.0 323.5 L1459.0 324.5 L1461.0 325.8 L1463.0 327.3 L1465.0 329.1 L1467.0 331.0 L1469.0 333.2 L1471.0 335.6 L1473.0 338.2 L1475.0 341.0 L1477.0 343.9 L1479.0 347.0 L1481.0 350.4 L1483.0 353.8 L1485.0 357.4 L1487.0 361.2 L1489.0 365.1 L1491.0 369.2 L1493.0 373.4 L1495.0 377.7 L1497.0 382.1 L1499.0 386.6 L1501.0 391.1 L1503.0 395.7 L1505.0 400.3 L1507.0 404.9 L1509.0 409.4 L1511.0 413.9 L1513.0 418.4 L1515.0 422.8 L1517.0 427.0 L1519.0 431.2 L1521.0 435.2 L1523.0 439.2 L1525.0 443.0 L1527.0 446.7 L1529.0 450.4 L1531.0 453.9 L1533.0 457.3 L1535.0 460.7 L1537.0 463.9 L1539.0 467.1 L1541.0 470.2 L1543.0 473.2 L1545.0 476.1 L1547.0 478.9 L1549.0 481.7 L1551.0 484.4 L1553.0 487.0 L1555.0 489.5 L1557.0 492.0 L1559.0 494.4 L1561.0 496.7 L1563.0 499.0 L1565.0 501.3 L1567.0 503.4 L1569.0 505.5 L1571.0 507.6 L1573.0 509.6 L1575.0 511.6 L1577.0 513.5 L1579.0 515.4 L1581.0 517.3 L1583.0 519.1 L1585.0 520.9 L1587.0 522.6 L1589.0 524.3 L1591.0 525.9 L1593.0 527.5 L1595.0 529.1 L1597.0 530.6 L1599.0 532.1 L1601.0 533.6 L1603.0 535.0 L1605.0 536.4 L1607.0 537.7 L1609.0 539.0 L1611.0 540.3 L1613.0 541.5 L1615.0 542.7 L1617.0 543.9 L1619.0 545.1 L1621.0 546.2 L1623.0 547.2 L1625.0 548.3 L1627.0 549.3 L1629.0 550.3 L1631.0 551.2 L1633.0 552.2 L1635.0 553.1 L1637.0 553.9 L1639.0 554.8 L1641.0 555.6 L1643.0 556.3 L1645.0 557.1 L1647.0 557.8 L1649.0 558.5 L1651.0 559.2 L1653.0 559.9 L1655.0 560.5 L1657.0 561.1 L1659.0 561.7 L1661.0 562.2 L1663.0 562.8 L1665.0 563.3 L1667.0 563.8 L1669.0 564.2 L1671.0 564.7 L1673.0 565.1 L1675.0 565.5 L1677.0 565.9 L1679.0 566.3 L1681.0 566.6 L1683.0 567.0 L1685.0 567.3 L1687.0 567.6 L1689.0 567.8 L1691.0 568.1 L1693.0 568.4 L1695.0 568.6 L1697.0 568.8 L1699.0 569.0 L1701.0 569.2 L1703.0 569.4 L1705.0 569.6 L1707.0 569.7 L1709.0 569.9 L1711.0 570.0 L1713.0 570.1 L1715.0 570.2 L1717.0 570.3 L1719.0 570.4 L1721.0 570.5 L1723.0 570.6 L1725.0 570.6 L1727.0 570.7 L1729.0 570.7 L1731.0 570.8 L1733.0 570.8 L1735.0 570.9 L1737.0 570.9 L1739.0 570.9 L1741.0 570.9 L1743.0 570.9 L1745.0 570.9 L1747.0 571.0 L1749.0 571.0 L1751.0 571.0 L1753.0 571.0 L1755.0 571.0 L1757.0 571.0 L1759.0 571.0 L1761.0 571.0 L1763.0 571.0 L1765.0 571.0 L1767.0 571.0 L1769.0 571.0 L1771.0 571.0 L1773.0 571.0 L1775.0 571.0 L1777.0 571.0 L1779.0 571.1 L1781.0 571.1 L1783.0 571.1 L1785.0 571.2 L1787.0 571.2 L1789.0 571.3 L1791.0 571.3 L1793.0 571.4 L1795.0 571.5 L1797.0 571.6 L1799.0 571.7 L1799.6 571.7" stroke="#98B954"/>
<path d="M1156.9 582.1 L1157.4 577.1 L1158.0 569.8 L1158.7 561.9 L1159.5 555.0 L1160.3 549.0 L1161.3 543.1 L1162.1 538.1 L1162.7 534.6 L1164.7 534.7 L1166.7 534.8 L1168.7 534.9 L1170.7 535.1 L1172.7 535.2 L1174.7 535.4 L1176.7 535.7 L1178.7 535.9 L1180.7 536.2 L1182.7 536.5 L1184.7 536.8 L1186.7 537.1 L1188.7 537.4 L1190.7 537.8 L1192.7 538.2 L1194.7 538.6 L1196.7 539.0 L1198.7 539.4 L1200.7 539.8 L1202.7 540.2 L1204.7 540.6 L1206.7 541.1 L1208.7 541.5 L1210.7 542.0 L1212.7 542.4 L1214.7 542.9 L1216.7 543.4 L1218.7 543.8 L1220.7 544.3 L1222.7 544.7 L1224.7 545.2 L1226.7 545.6 L1228.7 546.0 L1230.7 546.5 L1232.7 546.9 L1234.7 547.3 L1236.7 547.7 L1238.7 548.1 L1240.7 548.5 L1242.7 548.8 L1244.7 549.2 L1246.7 549.5 L1248.7 549.8 L1250.7 550.1 L1252.7 550.4 L1254.7 550.7 L1256.7 550.9 L1258.7 551.1 L1260.7 551.3 L1262.7 551.4 L1264.7 551.6 L1266.7 551.7 L1268.7 551.8 L1270.7 551.8 L1272.7 551.8 L1274.7 551.8 L1276.7 551.7 L1278.7 551.7 L1280.7 551.5 L1282.7 551.4 L1284.7 551.2 L1286.7 550.9 L1288.7 550.7 L1290.7 550.4 L1292.7 550.0 L1294.7 549.6 L1296.7 549.2 L1298.7 548.7 L1300.7 548.1 L1302.7 547.6 L1304.7 547.0 L1306.7 546.3 L1308.7 545.6 L1310.7 544.9 L1312.7 544.1 L1314.7 543.3 L1316.7 542.4 L1318.7 541.5 L1320.7 540.6 L1322.7 539.6 L1324.7 538.6 L1326.7 537.5 L1328.7 536.4 L1330.7 535.2 L1332.7 534.0 L1334.7 532.8 L1336.7 531.5 L1338.7 530.2 L1340.7 528.8 L1342.7 527.4 L1344.7 526.0 L1346.7 524.5 L1348.7 522.9 L1350.7 521.4 L1352.7 519.7 L1354.7 518.1 L1356.7 516.4 L1358.7 514.6 L1360.7 512.8 L1362.7 511.0 L1364.7 509.1 L1366.7 507.2 L1368.7 505.3 L1370.7 503.4 L1372.7 501.4 L1374.7 499.4 L1376.7 497.4 L1378.7 495.4 L1380.7 493.4 L1382.7 491.4 L1384.7 489.4 L1386.7 487.4 L1388.7 485.4 L1390.7 483.4 L1392.7 481.4 L1394.7 479.5 L1396.7 477.5 L1398.7 475.6 L1400.7 473.7 L1402.7 471.9 L1404.7 470.1 L1406.7 468.3 L1408.7 466.6 L1410.7 465.0 L1412.7 463.3 L1414.7 461.8 L1416.7 460.3 L1418.7 458.9 L1420.7 457.6 L1422.7 456.3 L1424.7 455.1 L1426.7 454.0 L1428.7 453.0 L1430.7 452.0 L1432.7 451.2 L1434.7 450.4 L1436.7 449.7 L1438.7 449.0 L1440.7 448.5 L1442.7 448.0 L1444.7 447.6 L1446.7 447.4 L1448.7 447.2 L1450.7 447.1 L1452.7 447.0 L1454.7 447.1 L1456.7 447.3 L1458.7 447.5 L1460.7 447.9 L1462.7 448.3 L1464.7 448.7 L1466.7 449.3 L1468.7 449.9 L1470.7 450.6 L1472.7 451.3 L1474.7 452.1 L1476.7 453.0 L1478.7 453.9 L1480.7 454.8 L1482.7 455.8 L1484.7 456.8 L1486.7 457.8 L1488.7 458.9 L1490.7 460.0 L1492.7 461.2 L1494.7 462.4 L1496.7 463.6 L1498.7 464.8 L1500.7 466.0 L1502.7 467.3 L1504.7 468.6 L1506.7 469.9 L1508.7 471.2 L1510.7 472.6 L1512.7 473.9 L1514.7 475.3 L1516.7 476.7 L1518.7 478.1 L1520.7 479.4 L1522.7 480.9 L1524.7 482.3 L1526.7 483.7 L1528.7 485.1 L1530.7 486.5 L1532.7 487.9 L1534.7 489.3 L1536.7 490.7 L1538.7 492.1 L1540.7 493.5 L1542.7 494.9 L1544.7 496.3 L1546.7 497.7 L1548.7 499.0 L1550.7 500.4 L1552.7 501.7 L1554.7 503.0 L1556.7 504.3 L1558.7 505.5 L1560.7 506.8 L1562.7 508.0 L1564.7 509.2 L1566.7 510.4 L1568.7 511.6 L1570.7 512.7 L1572.7 513.8 L1574.7 515.0 L1576.7 516.0 L1578.7 517.1 L1580.7 518.2 L1582.7 519.2 L1584.7 520.2 L1586.7 521.2 L1588.7 522.2 L1590.7 523.2 L1592.7 524.1 L1594.7 525.0 L1596.7 525.9 L1598.7 526.8 L1600.7 527.7 L1602.7 528.6 L1604.7 529.4 L1606.7 530.2 L1608.7 531.0 L1610.7 531.8 L1612.7 532.6 L1614.7 533.4 L1616.7 534.1 L1618.7 534.9 L1620.7 535.6 L1622.7 536.3 L1624.7 537.0 L1626.7 537.6 L1628.7 538.3 L1630.7 538.9 L1632.7 539.6 L1634.7 540.2 L1636.7 540.8 L1638.7 541.4 L1640.7 541.9 L1642.7 542.5 L1644.7 543.1 L1646.7 543.6 L1648.7 544.1 L1650.7 544.6 L1652.7 545.1 L1654.7 545.6 L1656.7 546.1 L1658.7 546.6 L1660.7 547.0 L1662.7 547.5 L1664.7 547.9 L1666.7 548.3 L1668.7 548.7 L1670.7 549.1 L1672.7 549.5 L1674.7 549.9 L1676.7 550.3 L1678.7 550.6 L1680.7 551.0 L1682.7 551.3 L1684.7 551.7 L1686.7 552.0 L1688.7 552.3 L1690.7 552.6 L1692.7 552.9 L1694.7 553.2 L1696.7 553.5 L1698.7 553.7 L1700.7 554.0 L1702.7 554.3 L1704.7 554.5 L1706.7 554.8 L1708.7 555.0 L1710.7 555.2 L1712.7 555.4 L1714.7 555.7 L1716.7 555.9 L1718.7 556.1 L1720.7 556.3 L1722.7 556.5 L1724.7 556.6 L1726.7 556.8 L1728.7 557.0 L1730.7 557.2 L1732.7 557.3 L1734.7 557.5 L1736.7 557.6 L1738.7 557.8 L1740.7 557.9 L1742.7 558.1 L1744.7 558.2 L1746.7 558.4 L1748.7 558.5 L1750.7 558.6 L1752.7 558.8 L1754.7 558.9 L1756.7 559.0 L1758.7 559.1 L1760.7 559.2 L1762.7 559.3 L1764.7 559.5 L1766.7 559.6 L1768.7 559.7 L1770.7 559.8 L1772.7 559.9 L1774.7 560.0 L1776.7 560.1 L1778.7 560.2 L1780.7 560.3 L1782.7 560.4 L1784.7 560.5 L1786.7 560.6 L1788.7 560.7 L1790.7 560.8 L1792.7 560.9 L1794.7 561.0 L1796.7 561.1 L1798.7 561.2 L1799.6 561.3" stroke="#7D5FA0"/>
<path d="M1156.9 655.1 L1157.6 652.3 L1158.5 648.3 L1159.5 643.9 L1160.5 640.0 L1161.4 636.6 L1162.4 633.3 L1163.3 630.5 L1163.9 628.5 L1165.9 628.4 L1167.9 628.2 L1169.9 628.1 L1171.9 627.9 L1173.9 627.9 L1175.9 627.8 L1177.9 627.7 L1179.9 627.7 L1181.9 627.7 L1183.9 627.7 L1185.9 627.7 L1187.9 627.8 L1189.9 627.8 L1191.9 627.9 L1193.9 627.9 L1195.9 628.0 L1197.9 628.1 L1199.9 628.2 L1201.9 628.3 L1203.9 628.4 L1205.9 628.5 L1207.9 628.6 L1209.9 628.7 L1211.9 628.8 L1213.9 628.9 L1215.9 629.0 L1217.9 629.1 L1219.9 629.2 L1221.9 629.3 L1223.9 629.4 L1225.9 629.4 L1227.9 629.5 L1229.9 629.5 L1231.9 629.5 L1233.9 629.5 L1235.9 629.5 L1237.9 629.5 L1239.9 629.5 L1241.9 629.4 L1243.9 629.3 L1245.9 629.2 L1247.9 629.1 L1249.9 628.9 L1251.9 628.7 L1253.9 628.5 L1255.9 628.3 L1257.9 628.0 L1259.9 627.7 L1261.9 627.4 L1263.9 627.0 L1265.9 626.6 L1267.9 626.2 L1269.9 625.7 L1271.9 625.2 L1273.9 624.6 L1275.9 624.0 L1277.9 623.4 L1279.9 622.7 L1281.9 621.9 L1283.9 621.2 L1285.9 620.3 L1287.9 619.5 L1289.9 618.5 L1291.9 617.6 L1293.9 616.5 L1295.9 615.4 L1297.9 614.3 L1299.9 613.1 L1301.9 611.8 L1303.9 610.4 L1305.9 609.0 L1307.9 607.5 L1309.9 605.9 L1311.9 604.3 L1313.9 602.6 L1315.9 600.8 L1317.9 598.9 L1319.9 596.9 L1321.9 594.8 L1323.9 592.6 L1325.9 590.4 L1327.9 588.0 L1329.9 585.6 L1331.9 583.0 L1333.9 580.3 L1335.9 577.6 L1337.9 574.7 L1339.9 571.8 L1341.9 568.7 L1343.9 565.5 L1345.9 562.3 L1347.9 559.0 L1349.9 555.5 L1351.9 552.0 L1353.9 548.4 L1355.9 544.7 L1357.9 540.9 L1359.9 537.0 L1361.9 533.0 L1363.9 529.0 L1365.9 524.8 L1367.9 520.6 L1369.9 516.3 L1371.9 511.9 L1373.9 507.4 L1375.9 502.9 L1377.9 498.3 L1379.9 493.6 L1381.9 488.8 L1383.9 484.0 L1385.9 479.1 L1387.9 474.1 L1389.9 469.0 L1391.9 463.9 L1393.9 458.8 L1395.9 453.6 L1397.9 448.3 L1399.9 442.9 L1401.9 437.5 L1403.9 432.1 L1405.9 426.6 L1407.9 421.0 L1409.9 415.4 L1411.9 409.8 L1413.9 404.2 L1415.9 398.6 L1417.9 393.0 L1419.9 387.5 L1421.9 382.1 L1423.9 376.7 L1425.9 371.5 L1427.9 366.3 L1429.9 361.3 L1431.9 356.4 L1433.9 351.7 L1435.9 347.2 L1437.9 342.9 L1439.9 338.7 L1441.9 334.8 L1443.9 331.1 L1445.9 327.5 L1447.9 324.3 L1449.9 321.2 L1451.9 318.4 L1453.9 315.8 L1455.9 313.5 L1457.9 311.4 L1459.9 309.6 L1461.9 308.0 L1463.9 306.8 L1465.9 305.8 L1467.9 305.1 L1469.9 304.7 L1471.9 304.6 L1473.9 304.9 L1475.9 305.4 L1477.9 306.2 L1479.9 307.2 L1481.9 308.5 L1483.9 310.1 L1485.9 311.9 L1487.9 313.9 L1489.9 316.1 L1491.9 318.6 L1493.9 321.2 L1495.9 323.9 L1497.9 326.8 L1499.9 329.9 L1501.9 333.1 L1503.9 336.4 L1505.9 339.8 L1507.9 343.4 L1509.9 347.0 L1511.9 350.7 L1513.9 354.4 L1515.9 358.2 L1517.9 362.1 L1519.9 366.1 L1521.9 370.1 L1523.9 374.2 L1525.9 378.3 L1527.9 382.4 L1529.9 386.6 L1531.9 390.8 L1533.9 395.0 L1535.9 399.3 L1537.9 403.5 L1539.9 407.8 L1541.9 412.1 L1543.9 416.4 L1545.9 420.7 L1547.9 425.0 L1549.9 429.2 L1551.9 433.5 L1553.9 437.7 L1555.9 441.9 L1557.9 446.0 L1559.9 450.1 L1561.9 454.2 L1563.9 458.2 L1565.9 462.2 L1567.9 466.1 L1569.9 470.0 L1571.9 473.8 L1573.9 477.5 L1575.9 481.1 L1577.9 484.7 L1579.9 488.2 L1581.9 491.5 L1583.9 494.8 L1585.9 498.0 L1587.9 501.1 L1589.9 504.0 L1591.9 506.9 L1593.9 509.6 L1595.9 512.3 L1597.9 514.9 L1599.9 517.3 L1601.9 519.7 L1603.9 522.0 L1605.9 524.1 L1607.9 526.2 L1609.9 528.2 L1611.9 530.0 L1613.9 531.8 L1615.9 533.5 L1617.9 535.0 L1619.9 536.5 L1621.9 537.9 L1623.9 539.2 L1625.9 540.4 L1627.9 541.5 L1629.9 542.5 L1631.9 543.5 L1633.9 544.3 L1635.9 545.0 L1637.9 545.7 L1639.9 546.3 L1641.9 546.7 L1643.9 547.1 L1645.9 547.4 L1647.9 547.6 L1649.9 547.7 L1651.9 547.8 L1653.9 547.7 L1655.9 547.6 L1657.9 547.3 L1659.9 547.0 L1661.9 546.6 L1663.9 546.2 L1665.9 545.6 L1667.9 545.0 L1669.9 544.2 L1671.9 543.4 L1673.9 542.6 L1675.9 541.6 L1677.9 540.6 L1679.9 539.5 L1681.9 538.3 L1683.9 537.0 L1685.9 535.7 L1687.9 534.3 L1689.9 532.8 L1691.9 531.3 L1693.9 529.6 L1695.9 527.9 L1697.9 526.2 L1699.9 524.4 L1701.9 522.5 L1703.9 520.5 L1705.9 518.4 L1707.9 516.3 L1709.9 514.2 L1711.9 512.0 L1713.9 509.7 L1715.9 507.3 L1717.9 504.9 L1719.9 502.4 L1721.9 499.9 L1723.9 497.3 L1725.9 494.6 L1727.9 491.9 L1729.9 489.1 L1731.9 486.3 L1733.9 483.4 L1735.9 480.4 L1737.9 477.4 L1739.9 474.4 L1741.9 471.3 L1743.9 468.1 L1745.9 464.9 L1747.9 461.6 L1749.9 458.3 L1751.9 454.9 L1753.9 451.5 L1755.9 448.1 L1757.9 444.5 L1759.9 441.0 L1761.9 437.4 L1763.9 433.7 L1765.9 430.0 L1767.9 426.3 L1769.9 422.5 L1771.9 418.7 L1773.9 414.8 L1775.9 410.9 L1777.9 407.0 L1779.9 403.0 L1781.9 399.0 L1783.9 394.9 L1785.9 390.8 L1787.9 386.7 L1789.9 382.5 L1791.9 378.3 L1793.9 374.1 L1795.9 369.8 L1797.9 365.5 L1799.7 361.6" stroke="#46AAC5"/>
</g>
<text x="87" y="751.2" font-size="37" text-anchor="end">0</text>
<text x="87" y="606.5" font-size="37" text-anchor="end">1</text>
<text x="87" y="461.8" font-size="37" text-anchor="end">2</text>
<text x="87" y="317.1" font-size="37" text-anchor="end">3</text>
<text x="87" y="172.4" font-size="37" text-anchor="end">4</text>
<text x="87" y="27.7" font-size="37" text-anchor="end">5</text>
<text x="118.0" y="794.5" font-size="37" text-anchor="middle">0</text>
<text x="269.6" y="794.5" font-size="37" text-anchor="middle">0.1</text>
<text x="421.2" y="794.5" font-size="37" text-anchor="middle">0.2</text>
<text x="572.8" y="794.5" font-size="37" text-anchor="middle">0.3</text>
<text x="724.4" y="794.5" font-size="37" text-anchor="middle">0.4</text>
<text x="876.0" y="794.5" font-size="37" text-anchor="middle">0.5</text>
<text x="491" y="854" font-size="38" text-anchor="middle">P (V)</text>
<text transform="translate(31.3,386) rotate(-90)" font-size="38" letter-spacing="-0.9" text-anchor="middle">I (μA)</text>
<text x="201" y="119.8" font-size="49">A</text>
<line x1="523.0" y1="28.6" x2="593.0" y2="28.6" stroke="#4A7EBB" stroke-width="5" stroke-linecap="round"/>
<text x="600.3" y="39.9" font-size="36.4">Bare GCE</text>
<line x1="523.0" y1="78.8" x2="593.0" y2="78.8" stroke="#BE4B48" stroke-width="5" stroke-linecap="round"/>
<text x="600.3" y="90.0" font-size="36.4">Pt@ZIF-8/GCE</text>
<line x1="523.0" y1="128.9" x2="593.0" y2="128.9" stroke="#98B954" stroke-width="5" stroke-linecap="round"/>
<text x="600.3" y="140.2" font-size="36.4">Ab/Pt@ZIF-8/GCE</text>
<line x1="523.0" y1="179.0" x2="593.0" y2="179.0" stroke="#7D5FA0" stroke-width="5" stroke-linecap="round"/>
<text x="600.3" y="190.3" font-size="36.4">tau/Ab/Pt@ZIF-8/GCE</text>
<line x1="523.0" y1="229.2" x2="593.0" y2="229.2" stroke="#46AAC5" stroke-width="5" stroke-linecap="round"/>
<text x="600.3" y="240.5" font-size="36.4">BSA/Ab/Pt@ZIF-8/GCE</text>
<text x="1126" y="735.3" font-size="37" text-anchor="end">0</text>
<text x="1126" y="635.7" font-size="37" text-anchor="end">2</text>
<text x="1126" y="536.1" font-size="37" text-anchor="end">4</text>
<text x="1126" y="436.4" font-size="37" text-anchor="end">6</text>
<text x="1126" y="336.8" font-size="37" text-anchor="end">8</text>
<text x="1126" y="237.2" font-size="37" text-anchor="end">10</text>
<text x="1126" y="137.6" font-size="37" text-anchor="end">12</text>
<text x="1126" y="38.0" font-size="37" text-anchor="end">14</text>
<text x="1157.3" y="776.8" font-size="37" text-anchor="middle">0</text>
<text x="1414.8" y="776.8" font-size="37" text-anchor="middle">0.2</text>
<text x="1672.3" y="776.8" font-size="37" text-anchor="middle">0.4</text>
<text x="1929.8" y="776.8" font-size="37" text-anchor="middle">0.6</text>
<text x="1543.6" y="829.6" font-size="38" text-anchor="middle">P (V)</text>
<text transform="translate(1065.3,372.4) rotate(-90)" font-size="38" letter-spacing="-0.9" text-anchor="middle">I (μA)</text>
<text x="1213" y="130.8" font-size="51">B</text>
<line x1="1545.0" y1="40.9" x2="1615.0" y2="40.9" stroke="#4A7EBB" stroke-width="5" stroke-linecap="round"/>
<text x="1620.4" y="52.4" font-size="36.4">Bare GCE</text>
<line x1="1545.0" y1="95.8" x2="1615.0" y2="95.8" stroke="#BE4B48" stroke-width="5" stroke-linecap="round"/>
<text x="1620.4" y="107.3" font-size="36.4">Pt@ZIF-8/GCE</text>
<line x1="1545.0" y1="150.7" x2="1615.0" y2="150.7" stroke="#98B954" stroke-width="5" stroke-linecap="round"/>
<text x="1620.4" y="162.2" font-size="36.4">Ab/Pt@ZIF-8/GCE</text>
<line x1="1545.0" y1="205.6" x2="1615.0" y2="205.6" stroke="#7D5FA0" stroke-width="5" stroke-linecap="round"/>
<text x="1620.4" y="217.1" font-size="36.4">tau/Ab/Pt@ZIF-8/GCE</text>
<line x1="1545.0" y1="260.5" x2="1615.0" y2="260.5" stroke="#46AAC5" stroke-width="5" stroke-linecap="round"/>
<text x="1620.4" y="272.0" font-size="36.4">BSA/Ab/Pt@ZIF-8/GCE</text>
</svg>
</body></html>
